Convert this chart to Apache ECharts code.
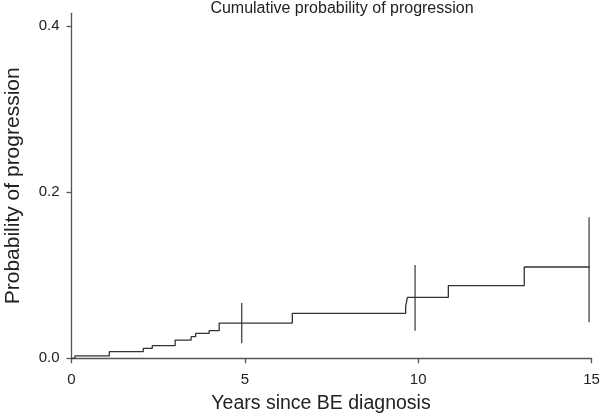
<!DOCTYPE html>
<html>
<head>
<meta charset="utf-8">
<script src="https://cdn.jsdelivr.net/npm/echarts@6/dist/echarts.min.js"></script>
<style>html,body{margin:0;padding:0;background:#fff}#c{width:600px;height:417px}</style>
</head>
<body>
<div id="c"></div>
<script>
// Kaplan-Meier style cumulative incidence (step times in years, cumulative probability)
var stepTimes = [0, 0.10, 1.09, 2.07, 2.33, 2.99, 3.45, 3.58, 3.97, 4.26, 6.37, 9.64, 9.69, 10.87, 13.06, 14.95];
var stepValues = [0, 0.003, 0.008, 0.012, 0.0152, 0.022, 0.026, 0.030, 0.0333, 0.0425, 0.0542, 0.063, 0.0735, 0.0875, 0.110, 0.110];
// Confidence interval bars
var ciTimes = [4.91, 9.91, 14.93];
var ciLower = [0.018, 0.0333, 0.0434];
var ciUpper = [0.0666, 0.1123, 0.170];
var xTicks = [0, 5, 10, 15];
var yTicks = [0, 0.2, 0.4];

var FONT = '"Liberation Sans", Arial, Helvetica, sans-serif';
var chart = echarts.init(document.getElementById('c'), null, {renderer: 'canvas'});

var curve = stepTimes.map(function (t, i) { return [t, stepValues[i]]; });
var ciData = ciTimes.map(function (t, i) { return [t, ciLower[i], ciUpper[i]]; });

chart.setOption({
  animation: false,
  backgroundColor: '#fff',
  grid: {left: 71.5, right: 8.5, top: 13.3, bottom: 58.7, containLabel: false, outerBoundsMode: 'none'},
  xAxis: {
    type: 'value', min: 0, max: 15, interval: 5,
    axisLine: {show: true, onZero: false, lineStyle: {color: '#555', width: 1.3}},
    axisTick: {show: true, length: 5, customValues: xTicks, lineStyle: {color: '#555', width: 1.3}},
    axisLabel: {margin: 14, fontSize: 15, color: '#222', fontFamily: FONT, customValues: xTicks},
    splitLine: {show: false}
  },
  yAxis: {
    type: 'value', min: 0, max: 0.4157,
    axisLine: {show: true, onZero: false, lineStyle: {color: '#555', width: 1.3}},
    axisTick: {show: true, length: 5, customValues: yTicks, lineStyle: {color: '#555', width: 1.3}},
    axisLabel: {margin: 12, fontSize: 15, color: '#222', fontFamily: FONT, customValues: yTicks,
      formatter: function (v) { return v.toFixed(1); }},
    splitLine: {show: false},
    name: 'Probability of progression', nameLocation: 'middle', nameRotate: 90, nameGap: 48,
    nameTextStyle: {fontSize: 21, color: '#222', fontFamily: FONT}
  },
  graphic: [
    {type: 'text', x: 342, y: 9, style: {text: 'Cumulative probability of progression', fontSize: 16, fontFamily: FONT, fill: '#222', textAlign: 'center', textVerticalAlign: 'middle'}},
    {type: 'text', x: 321, y: 404, style: {text: 'Years since BE diagnosis', fontSize: 19.5, fontFamily: FONT, fill: '#222', textAlign: 'center', textVerticalAlign: 'middle'}}
  ],
  series: [
    {
      type: 'line', step: 'end', data: curve, symbol: 'none',
      lineStyle: {color: '#333', width: 1.3}
    },
    {
      type: 'custom', data: ciData,
      renderItem: function (params, api) {
        var p1 = api.coord([api.value(0), api.value(1)]);
        var p2 = api.coord([api.value(0), api.value(2)]);
        return {type: 'line', shape: {x1: p1[0], y1: p1[1], x2: p2[0], y2: p2[1]},
          style: {stroke: '#444', lineWidth: 1.3}};
      }
    }
  ]
});
</script>
</body>
</html>
